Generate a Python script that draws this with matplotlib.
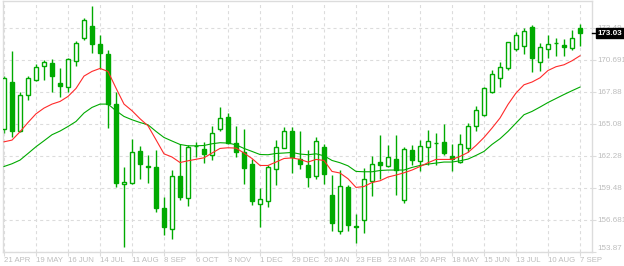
import matplotlib
matplotlib.use("Agg")
import matplotlib.pyplot as plt
import numpy as np

# ---- data (weekly candles, 21 Apr 2014 .. 7 Sep 2015) ----
opens = [164.63, 168.76, 164.48, 167.60, 168.91, 170.16, 170.40, 168.65, 168.30, 170.54,
         172.59, 173.66, 172.09, 171.21, 166.81, 159.81, 159.90, 162.70, 161.41, 161.30,
         157.71, 155.88, 160.51, 158.61, 163.15, 162.90, 162.35, 164.63, 165.70, 163.40,
         162.64, 161.59, 158.06, 158.33, 161.13, 162.99, 164.48, 161.97, 161.50, 160.54,
         163.08, 158.85, 155.70, 159.55, 156.16, 156.63, 160.04, 161.74, 161.39, 162.05,
         158.38, 162.79, 161.83, 163.05, 163.40, 163.51, 162.29, 161.76, 162.96, 164.89,
         165.82, 167.86, 169.09, 169.96, 171.59, 171.89, 173.58, 170.49, 171.63, 172.12,
         172.00, 171.68, 173.45]
highs = [169.23, 171.48, 167.83, 169.26, 170.31, 170.66, 170.75, 169.99, 170.80, 172.33,
         174.36, 175.35, 172.82, 171.56, 167.83, 161.33, 163.78, 163.14, 162.35, 162.79,
         158.70, 161.04, 163.28, 163.19, 163.51, 163.51, 164.91, 166.58, 165.99, 164.91,
         164.65, 162.00, 159.46, 161.48, 163.66, 164.77, 164.83, 164.48, 162.79, 163.95,
         163.31, 160.65, 161.06, 159.75, 157.21, 161.21, 162.29, 164.13, 163.25, 164.13,
         163.08, 163.19, 163.69, 164.56, 164.28, 165.06, 163.34, 164.19, 165.15, 166.66,
         168.30, 169.75, 170.51, 172.28, 173.11, 173.43, 173.75, 172.15, 172.88, 172.61,
         172.53, 173.29, 173.78]
lows = [164.28, 163.93, 164.33, 167.13, 168.85, 168.88, 167.83, 167.39, 167.83, 170.10,
        172.38, 171.28, 169.90, 164.68, 159.60, 154.27, 159.85, 160.28, 159.87, 157.33,
        155.32, 155.05, 158.44, 157.91, 162.20, 161.70, 161.88, 164.50, 163.35, 162.14,
        159.81, 157.94, 156.10, 157.77, 159.69, 162.95, 160.74, 161.09, 159.58, 160.25,
        159.81, 155.75, 155.44, 155.70, 154.68, 155.53, 158.76, 160.22, 161.35, 158.90,
        158.12, 161.44, 160.92, 161.44, 161.44, 162.35, 160.92, 161.68, 162.58, 164.45,
        165.79, 167.74, 168.27, 169.75, 171.42, 171.19, 169.61, 169.67, 170.80, 170.98,
        170.98, 171.50, 171.91]
closes = [169.09, 164.42, 167.57, 169.09, 170.02, 170.49, 169.23, 168.35, 170.75, 172.15,
          174.16, 172.03, 171.26, 166.81, 159.87, 159.99, 162.61, 161.53, 161.30, 157.68,
          156.02, 160.51, 158.64, 163.05, 163.18, 162.44, 164.28, 165.59, 163.40, 162.58,
          161.18, 158.29, 158.50, 161.35, 163.05, 164.45, 162.18, 161.56, 160.43, 163.58,
          160.69, 156.37, 159.64, 156.19, 156.02, 160.25, 161.56, 161.44, 162.20, 161.04,
          162.88, 161.91, 163.14, 163.58, 163.42, 162.49, 162.03, 163.31, 164.89, 166.29,
          168.21, 169.44, 170.02, 172.24, 172.85, 173.20, 170.80, 171.77, 172.06, 172.18,
          171.80, 172.59, 173.03]
ma_fast = [163.51, 163.66, 164.39, 165.20, 165.96, 166.46, 166.81, 167.04, 167.48, 168.18,
           169.26, 169.67, 169.93, 169.67, 168.21, 166.81, 166.23, 165.53, 164.91, 163.69,
           162.46, 162.18, 161.70, 161.85, 161.98, 162.11, 162.53, 162.93, 162.99, 162.96,
           162.53, 162.05, 161.44, 161.44, 161.74, 162.05, 162.10, 161.97, 161.74, 161.97,
           161.88, 160.92, 160.78, 160.28, 159.52, 159.60, 159.95, 160.10, 160.43, 160.60,
           160.80, 161.04, 161.35, 161.68, 161.97, 161.97, 161.97, 162.23, 162.58, 163.19,
           163.89, 164.71, 165.59, 166.78, 167.78, 168.50, 168.74, 169.11, 169.75, 170.08,
           170.25, 170.60, 171.04]
ma_slow = [161.35, 161.59, 161.91, 162.49, 163.08, 163.60, 164.13, 164.45, 164.85, 165.29,
           166.03, 166.52, 166.81, 166.81, 166.23, 165.73, 165.44, 165.20, 165.00, 164.42,
           163.89, 163.58, 163.28, 163.16, 163.16, 163.19, 163.34, 163.43, 163.40, 163.25,
           162.93, 162.67, 162.40, 162.38, 162.49, 162.53, 162.58, 162.44, 162.38, 162.46,
           162.29, 161.88, 161.68, 161.41, 160.92, 160.89, 160.89, 161.00, 161.04, 161.04,
           161.04, 161.27, 161.44, 161.56, 161.65, 161.74, 161.74, 161.85, 162.00, 162.32,
           162.67, 163.28, 163.78, 164.42, 165.15, 165.88, 166.17, 166.55, 166.95, 167.30,
           167.65, 167.98, 168.30]
x_labels = ["21 APR", "19 MAY", "16 JUN", "14 JUL", "11 AUG", "8 SEP", "6 OCT", "3 NOV",
            "1 DEC", "29 DEC", "26 JAN", "23 FEB", "23 MAR", "20 APR", "18 MAY", "15 JUN",
            "13 JUL", "10 AUG", "7 SEP"]
y_ticks = [173.49, 170.691, 167.88, 165.08, 162.28, 159.48, 156.681, 153.87]
y_labels = ["173.49", "170.691", "167.88", "165.08", "162.28", "159.48", "156.681", "153.87"]
last_price = 173.03

# ---- styling ----
GREEN = "#00aa00"
RED = "#ff2a2a"
GRID = "#dcdcdc"
TXT = "#bdbdbd"
plt.rcParams['lines.scale_dashes'] = False
plt.rcParams['font.family'] = ['Liberation Sans', 'DejaVu Sans']

W, H = 624, 266
fig = plt.figure(figsize=(W / 100, H / 100), dpi=100)
ax = fig.add_axes([3 / W, (H - 252) / H, 589 / W, 251 / H])

n = len(opens)
xs = np.arange(n)
o = np.array(opens); c = np.array(closes); h = np.array(highs); l = np.array(lows)

# wicks
ax.vlines(xs, l, h, color=GREEN, linewidth=1.0, zorder=2)
up = c >= o
bw = 0.55
ax.bar(xs[up], (c - o)[up], bottom=o[up], width=bw, facecolor="white",
       edgecolor=GREEN, linewidth=1.0, zorder=3)
ax.bar(xs[~up], (o - c)[~up], bottom=c[~up], width=bw, facecolor=GREEN,
       edgecolor=GREEN, linewidth=1.0, zorder=3)

ax.plot(xs, ma_slow, color=GREEN, linewidth=0.8, zorder=4)
ax.plot(xs, ma_fast, color=RED, linewidth=0.8, zorder=4)

ax.set_xlim(-0.125, 73.5)
ax.set_ylim(153.87, 175.83)

xt = np.arange(0, n, 4)
ax.set_xticks(xt)
ax.set_xticklabels(x_labels, ha="left")
ax.yaxis.tick_right()
ax.set_yticks(y_ticks)
ax.set_yticklabels(y_labels)

ax.tick_params(axis="x", length=3, width=0.8, color=GRID, pad=0.5, labelsize=5.6, labelcolor=TXT)
ax.tick_params(axis="y", length=3, width=0.8, color=GRID, pad=1.0, labelsize=5.8, labelcolor=TXT)
for lab in ax.get_xticklabels():
    lab.set_horizontalalignment("left")
# bottom y label sits just above the bottom edge, as in the reference
ylabs = ax.get_yticklabels()
ylabs[-1].set_verticalalignment("bottom")

ax.grid(True, color=GRID, linewidth=0.8, linestyle=(0, (2.2, 2.2)))
ax.set_axisbelow(True)
for s in ax.spines.values():
    s.set_color(GRID)
    s.set_linewidth(1.0)

# last price marker
ax.annotate(f"{last_price:.2f}", xy=(1.0, last_price), xycoords=("axes fraction", "data"),
            xytext=(4, 0), textcoords="offset points", ha="left", va="center",
            fontsize=5.8, color="white", fontweight="bold",
            bbox=dict(boxstyle="square,pad=0.2", facecolor="black", edgecolor="black"),
            annotation_clip=False, zorder=10)
ax.plot([1.0, 1.012], [last_price, last_price], color="black", linewidth=1.0,
        transform=ax.get_yaxis_transform(), clip_on=False, zorder=5)

fig.savefig("out.png", dpi=100, facecolor="white")
